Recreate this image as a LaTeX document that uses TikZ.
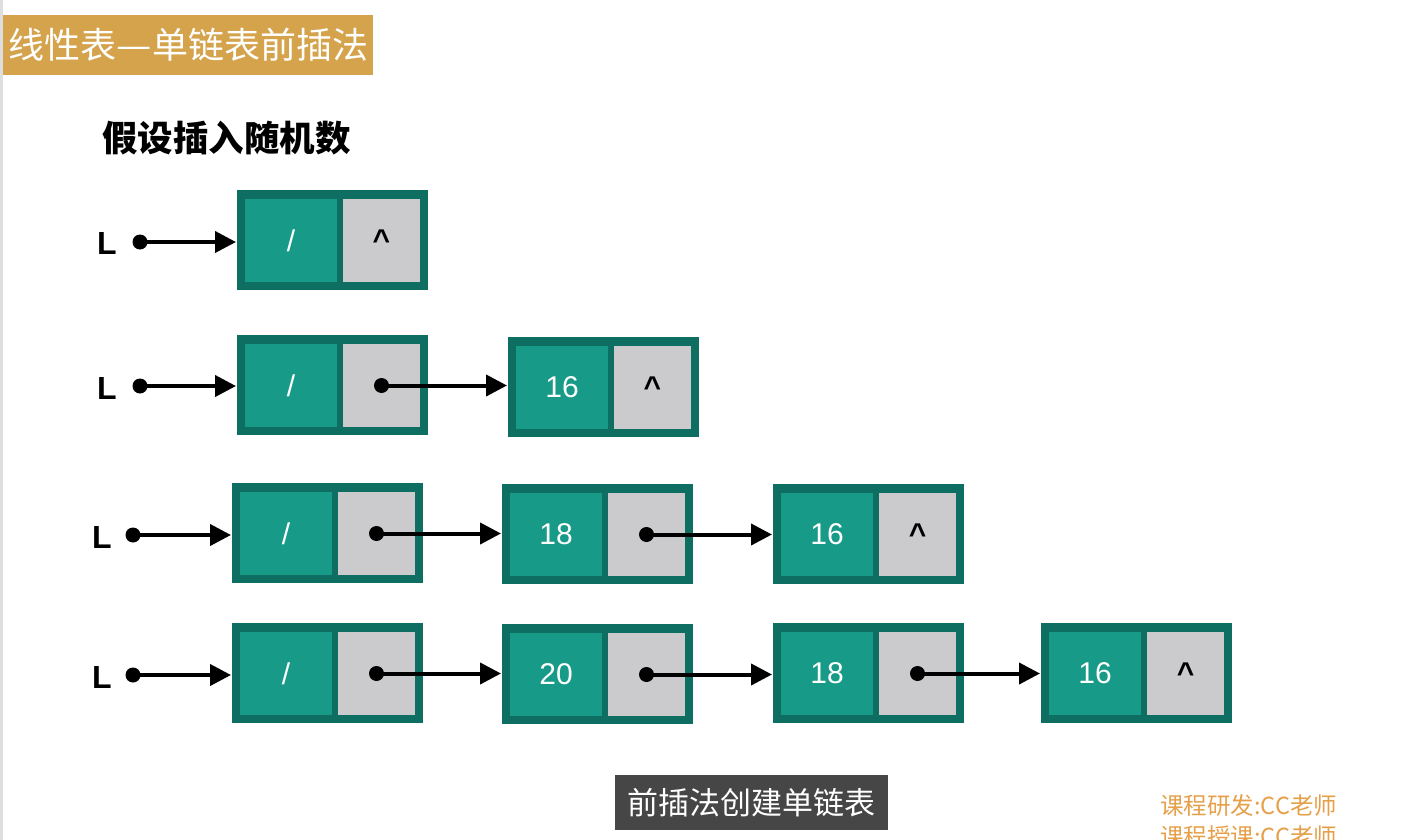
\documentclass[tikz,border=0pt]{standalone}
\usepackage{fontspec}
\usepackage{graphicx}
\setmainfont{Liberation Sans}
\newfontfamily\cjk{Noto Sans CJK SC}
\usetikzlibrary{arrows.meta}
\definecolor{gold}{RGB}{212,163,76}
\definecolor{tealfill}{RGB}{23,154,135}
\definecolor{tealdark}{RGB}{15,110,98}
\definecolor{cellgray}{RGB}{203,202,204}
\definecolor{capbg}{RGB}{70,70,70}
\definecolor{orangetxt}{RGB}{230,160,74}
\tikzset{
  outerbox/.style={fill=tealdark, minimum width=191pt, minimum height=100pt, inner sep=0pt, outer sep=0pt, anchor=north west},
  datacell/.style={fill=tealfill, minimum width=92pt, minimum height=83pt, inner sep=0pt, outer sep=0pt, anchor=north west, text=white, font=\fontsize{30}{32}\selectfont},
  ptrcell/.style={fill=cellgray, minimum width=77pt, minimum height=83pt, inner sep=0pt, outer sep=0pt, anchor=north east, text=black, font=\fontsize{30}{32}\selectfont\bfseries},
  headlbl/.style={font=\fontsize{32}{34}\selectfont\bfseries, inner sep=0pt},
  ptrdot/.style={circle, fill=black, minimum size=15pt, inner sep=0pt, outer sep=0pt},
  arr/.style={line width=4pt, -{Triangle[length=21pt,width=21pt]}, shorten >=1pt},
  credit/.style={anchor=west, text=orangetxt, inner sep=0pt, font=\cjk\fontsize{23.5}{25}\selectfont},
}
\newcommand{\lnode}[5]{%
  \node[outerbox] (#1) at (#2,#3) {};
  \node[datacell] (#1-d) at ([shift={(8,9)}]#1.north west) {#4};
  \node[ptrcell] (#1-p) at ([shift={(-8,9)}]#1.north east) {#5};
}
\begin{document}
\begin{tikzpicture}[x=1pt,y=-1pt]
\useasboundingbox (0,0) rectangle (1422,840);
\clip (0,0) rectangle (1422,840);
\fill[white] (0,0) rectangle (1422,840);
\fill[black!13] (0,0) rectangle (3,840);
% title
\node[fill=gold, anchor=north west, minimum width=370pt, minimum height=60pt, inner sep=0pt] (title) at (3,15) {};
\node[anchor=west, text=white, inner sep=0pt, font=\cjk\fontsize{36}{38}\selectfont] (titletext) at (8,45) {线性表\makebox[36pt]{\scalebox{1.1}[1]{—}}单链表前插法};
\node[anchor=west, inner sep=0pt, font=\cjk\bfseries\fontsize{35.5}{37}\selectfont] (subtitle) at (102,138) {假设插入随机数};
% row 1
\lnode{a1}{237}{190}{/}{\textasciicircum}
\node[headlbl] (L1) at (107,243) {L};
\node[ptrdot] (L1dot) at (140,242) {};
\draw[arr] (L1dot.center) -- (L1dot.center -| a1.west);
% row 2
\lnode{b1}{237}{335}{/}{}
\lnode{b2}{508}{337}{16}{\textasciicircum}
\node[headlbl] (L2) at (107,388) {L};
\node[ptrdot] (L2dot) at (140,386) {};
\draw[arr] (L2dot.center) -- (L2dot.center -| b1.west);
\node[ptrdot] (b1dot) at (b1-p.center) {};
\draw[arr] (b1dot.center) -- (b1dot.center -| b2.west);
% row 3
\lnode{c1}{232}{483}{/}{}
\lnode{c2}{502}{484}{18}{}
\lnode{c3}{773}{484}{16}{\textasciicircum}
\node[headlbl] (L3) at (102,537) {L};
\node[ptrdot] (L3dot) at (133,535) {};
\draw[arr] (L3dot.center) -- (L3dot.center -| c1.west);
\node[ptrdot] (c1dot) at (c1-p.center) {};
\draw[arr] (c1dot.center) -- (c1dot.center -| c2.west);
\node[ptrdot] (c2dot) at (c2-p.center) {};
\draw[arr] (c2dot.center) -- (c2dot.center -| c3.west);
% row 4
\lnode{d1}{232}{623}{/}{}
\lnode{d2}{502}{624}{20}{}
\lnode{d3}{773}{623}{18}{}
\lnode{d4}{1041}{623}{16}{\textasciicircum}
\node[headlbl] (L4) at (102,677) {L};
\node[ptrdot] (L4dot) at (133,675) {};
\draw[arr] (L4dot.center) -- (L4dot.center -| d1.west);
\node[ptrdot] (d1dot) at (d1-p.center) {};
\draw[arr] (d1dot.center) -- (d1dot.center -| d2.west);
\node[ptrdot] (d2dot) at (d2-p.center) {};
\draw[arr] (d2dot.center) -- (d2dot.center -| d3.west);
\node[ptrdot] (d3dot) at (d3-p.center) {};
\draw[arr] (d3dot.center) -- (d3dot.center -| d4.west);
% caption
\node[fill=capbg, text=white, minimum width=273pt, minimum height=55pt, inner sep=0pt, font=\cjk\fontsize{31}{33}\selectfont] (caption) at (751.5,802.5) {前插法创建单链表};
% credits
\node[credit] (credit1) at (1160,806) {课程研发:CC老师};
\node[credit] (credit2) at (1160,837) {课程授课:CC老师};
\end{tikzpicture}
\end{document}
